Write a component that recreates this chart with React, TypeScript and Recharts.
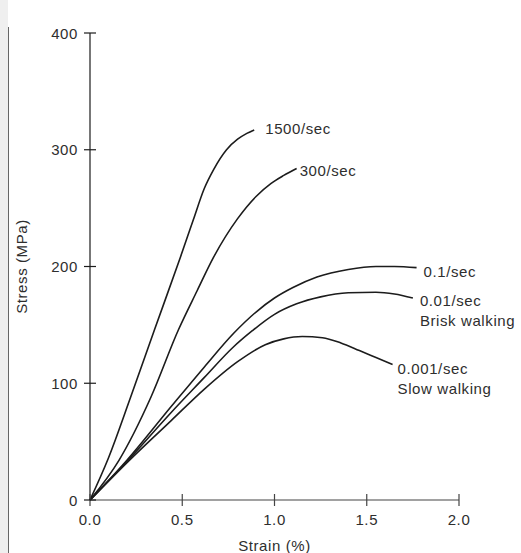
import React from 'react';
import { LineChart, Line, XAxis, YAxis, LabelList, Label } from 'recharts';

// values (strain in %, stress in MPa)
const strain1500 = [0, 0.1, 0.22, 0.35, 0.49, 0.56, 0.62, 0.67, 0.74, 0.8, 0.85, 0.89];
const stress1500 = [0, 36, 88, 146, 208, 240, 267, 283, 300, 309, 314, 317];

const strain300 = [0, 0.157, 0.33, 0.48, 0.58, 0.67, 0.8, 0.9, 0.98, 1.05, 1.12];
const stress300 = [0, 34, 88, 146, 179, 208, 241, 260, 271, 278, 284];

const strain01 = [0, 0.2, 0.44, 0.62, 0.78, 0.9, 1.0, 1.1, 1.23, 1.4, 1.55, 1.65, 1.77];
const stress01 = [0, 34, 80, 114, 143, 161, 173, 182, 191, 197.5, 200, 200, 199];

const strain001 = [0, 0.2, 0.44, 0.62, 0.77, 0.88, 1.0, 1.12, 1.25, 1.4, 1.55, 1.65, 1.75];
const stress001 = [0, 33, 75, 105, 130, 145, 159, 168, 174, 177.5, 178, 176.5, 173];

const strain0001 = [0, 0.22, 0.44, 0.62, 0.8, 0.95, 1.05, 1.15, 1.26, 1.36, 1.46, 1.55, 1.64];
const stress0001 = [0, 35, 68, 95, 118.5, 133, 138, 140, 139, 134.5, 128, 122, 116];

const xTicks = [0, 0.5, 1, 1.5, 2];
const yTicks = [0, 100, 200, 300, 400];

const FONT = '"Liberation Sans", Arial, Helvetica, sans-serif';
const INK = '#1c1c1c';
const TEXT = '#2e2e2e';

const toRows = (xs: number[], ys: number[]) => xs.map((s, i) => ({ strain: s, stress: ys[i] }));

const series = [
  { key: '1500', data: toRows(strain1500, stress1500), label: ['1500/sec'], dx: 11, dy: -2 },
  { key: '300', data: toRows(strain300, stress300), label: ['300/sec'], dx: 3, dy: 2 },
  { key: '0.1', data: toRows(strain01, stress01), label: ['0.1/sec'], dx: 7, dy: 3 },
  { key: '0.01', data: toRows(strain001, stress001), label: ['0.01/sec', 'Brisk walking'], dx: 7, dy: 2 },
  { key: '0.001', data: toRows(strain0001, stress0001), label: ['0.001/sec', 'Slow walking'], dx: 5, dy: 3 },
];

const endLabel = (lines: string[], last: number, dx: number, dy: number) => (props: any) => {
  const { x, y, index } = props;
  if (index !== last) return null;
  return (
    <text x={x + dx} y={y + dy} fill={TEXT} fontSize={15} fontFamily={FONT} letterSpacing={0.6} dominantBaseline="central">
      {lines.map((t, i) => (
        <tspan key={i} x={x + dx} dy={i === 0 ? 0 : 20}>{t}</tspan>
      ))}
    </text>
  );
};

const YTick = (props: any) => {
  const { x, y, payload } = props;
  return (
    <g>
      <line x1={x - 6} x2={x + 6} y1={y} y2={y} stroke={INK} strokeWidth={1.2} />
      <text x={x - 12} y={y} textAnchor="end" dominantBaseline="central" fill={TEXT} fontSize={15} fontFamily={FONT} letterSpacing={0.6}>
        {payload.value}
      </text>
    </g>
  );
};

const XTick = (props: any) => {
  const { x, y, payload } = props;
  return (
    <g>
      <line x1={x} x2={x} y1={y - 6} y2={y + 6} stroke="#444" strokeWidth={1.2} />
      <text x={x} y={y + 19} textAnchor="middle" dominantBaseline="central" fill={TEXT} fontSize={15} fontFamily={FONT} letterSpacing={0.6}>
        {Number(payload.value).toFixed(1)}
      </text>
    </g>
  );
};

export default function App() {
  return (
    <div style={{ position: 'absolute', left: 0, top: 0, width: 521, height: 553, background: '#fff', overflow: 'hidden' }}>
      <div style={{ position: 'absolute', left: 0, top: 0, width: 8, height: 553, background: '#efefef' }} />
      <div style={{ position: 'absolute', left: 8, top: 27, width: 1, height: 526, background: '#666' }} />
      <LineChart width={521} height={553} margin={{ top: 33, right: 62, bottom: 23, left: 30 }}>
        <XAxis
          type="number"
          dataKey="strain"
          domain={[0, 2]}
          ticks={xTicks}
          tick={<XTick />}
          tickSize={0}
          tickMargin={0}
          tickLine={false}
          axisLine={{ stroke: '#444', strokeWidth: 1.2 }}
          height={30}
          allowDuplicatedCategory={false}
        >
          <Label
            content={(p: any) => (
              <text x={p.viewBox.x + p.viewBox.width / 2} y={p.viewBox.y + 45} textAnchor="middle" dominantBaseline="central" fill={TEXT} fontSize={15} fontFamily={FONT} letterSpacing={0.6}>
                Strain (%)
              </text>
            )}
          />
        </XAxis>
        <YAxis
          type="number"
          dataKey="stress"
          domain={[0, 400]}
          ticks={yTicks}
          tick={<YTick />}
          tickSize={0}
          tickMargin={0}
          tickLine={false}
          axisLine={{ stroke: INK, strokeWidth: 1.2 }}
          width={60}
        >
          <Label
            content={(p: any) => {
              const cx = p.viewBox.x - 9;
              const cy = p.viewBox.y + p.viewBox.height / 2;
              return (
                <text transform={`translate(${cx},${cy}) rotate(-90)`} textAnchor="middle" dominantBaseline="central" fill={TEXT} fontSize={15} fontFamily={FONT} letterSpacing={0.6}>
                  Stress (MPa)
                </text>
              );
            }}
          />
        </YAxis>
        {series.map((s) => (
          <Line
            key={s.key}
            data={s.data}
            dataKey="stress"
            type="monotone"
            stroke={INK}
            strokeWidth={1.6}
            dot={false}
            activeDot={false}
            isAnimationActive={false}
          >
            <LabelList dataKey="stress" content={endLabel(s.label, s.data.length - 1, s.dx, s.dy)} />
          </Line>
        ))}
      </LineChart>
    </div>
  );
}
